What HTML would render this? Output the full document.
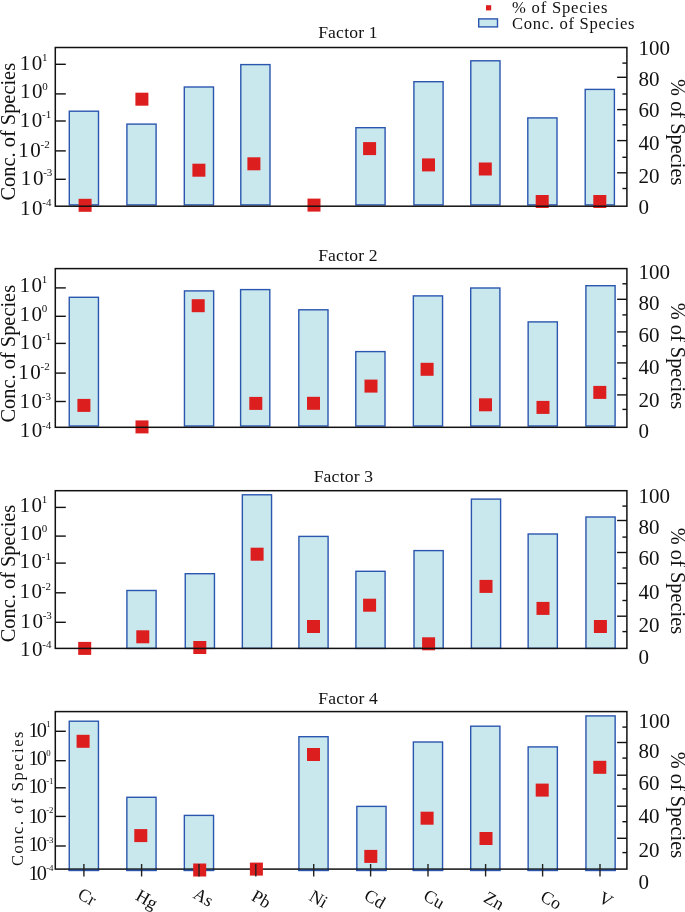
<!DOCTYPE html><html><head><meta charset="utf-8"><style>html,body{margin:0;padding:0;background:#fff;width:685px;height:912px;overflow:hidden}svg{display:block}text{font-family:"Liberation Serif",serif;fill:#111;filter:grayscale(1)}</style></head><body>
<svg width="685" height="912" viewBox="0 0 685 912">
<rect width="685" height="912" fill="#fff"/>
<rect x="486" y="5.2" width="5.2" height="5.2" fill="#dc1e1e"/>
<rect x="478.7" y="18.9" width="18.8" height="8" fill="#c9e8ee" stroke="#2b56b0" stroke-width="1.4"/>
<text x="512" y="12.6" font-size="16.6" letter-spacing="0.8">% of Species</text>
<text x="512" y="29.2" font-size="16.6" letter-spacing="0.7">Conc. of Species</text>
<rect x="69.30" y="111.2" width="29.2" height="93.7" fill="#c9e8ee" stroke="#2b56b0" stroke-width="1.4"/>
<rect x="126.90" y="124.1" width="29.2" height="80.8" fill="#c9e8ee" stroke="#2b56b0" stroke-width="1.4"/>
<rect x="184.30" y="87.0" width="29.2" height="117.9" fill="#c9e8ee" stroke="#2b56b0" stroke-width="1.4"/>
<rect x="240.80" y="64.6" width="29.2" height="140.3" fill="#c9e8ee" stroke="#2b56b0" stroke-width="1.4"/>
<rect x="355.90" y="127.7" width="29.2" height="77.2" fill="#c9e8ee" stroke="#2b56b0" stroke-width="1.4"/>
<rect x="413.90" y="81.7" width="29.2" height="123.2" fill="#c9e8ee" stroke="#2b56b0" stroke-width="1.4"/>
<rect x="470.80" y="60.8" width="29.2" height="144.1" fill="#c9e8ee" stroke="#2b56b0" stroke-width="1.4"/>
<rect x="527.80" y="117.9" width="29.2" height="87.0" fill="#c9e8ee" stroke="#2b56b0" stroke-width="1.4"/>
<rect x="585.20" y="89.4" width="29.2" height="115.5" fill="#c9e8ee" stroke="#2b56b0" stroke-width="1.4"/>
<rect x="78.6" y="198.8" width="13" height="13" fill="#dc1e1e"/><rect x="135.4" y="92.7" width="13" height="13" fill="#dc1e1e"/><rect x="192.4" y="163.7" width="13" height="13" fill="#dc1e1e"/><rect x="247.4" y="157.3" width="13" height="13" fill="#dc1e1e"/><rect x="307.5" y="198.6" width="13" height="13" fill="#dc1e1e"/><rect x="363.1" y="142.1" width="13" height="13" fill="#dc1e1e"/><rect x="422.0" y="158.4" width="13" height="13" fill="#dc1e1e"/><rect x="478.8" y="162.5" width="13" height="13" fill="#dc1e1e"/><rect x="535.7" y="195.0" width="13" height="13" fill="#dc1e1e"/><rect x="593.3" y="195.0" width="13" height="13" fill="#dc1e1e"/>
<rect x="55.3" y="47.5" width="571.6" height="158.7" fill="none" stroke="#111" stroke-width="1.5"/>
<line x1="55.3" y1="64.3" x2="65.8" y2="64.3" stroke="#111" stroke-width="1.4"/>
<line x1="55.3" y1="93.9" x2="65.8" y2="93.9" stroke="#111" stroke-width="1.4"/>
<line x1="55.3" y1="121.0" x2="65.8" y2="121.0" stroke="#111" stroke-width="1.4"/>
<line x1="55.3" y1="150.9" x2="65.8" y2="150.9" stroke="#111" stroke-width="1.4"/>
<line x1="55.3" y1="179.3" x2="65.8" y2="179.3" stroke="#111" stroke-width="1.4"/>
<line x1="622.4" y1="188.5" x2="626.9" y2="188.5" stroke="#111" stroke-width="1.4"/>
<line x1="617.1" y1="172.8" x2="626.9" y2="172.8" stroke="#111" stroke-width="1.4"/>
<line x1="622.4" y1="157.3" x2="626.9" y2="157.3" stroke="#111" stroke-width="1.4"/>
<line x1="617.1" y1="140.6" x2="626.9" y2="140.6" stroke="#111" stroke-width="1.4"/>
<line x1="622.4" y1="124.8" x2="626.9" y2="124.8" stroke="#111" stroke-width="1.4"/>
<line x1="617.1" y1="109.6" x2="626.9" y2="109.6" stroke="#111" stroke-width="1.4"/>
<line x1="622.4" y1="94.0" x2="626.9" y2="94.0" stroke="#111" stroke-width="1.4"/>
<line x1="617.1" y1="77.3" x2="626.9" y2="77.3" stroke="#111" stroke-width="1.4"/>
<line x1="622.4" y1="63.1" x2="626.9" y2="63.1" stroke="#111" stroke-width="1.4"/>
<text x="638.4" y="54.7" font-size="21">100</text>
<text x="638.4" y="85.8" font-size="21">80</text>
<text x="638.4" y="117.4" font-size="21">60</text>
<text x="638.4" y="149.9" font-size="21">40</text>
<text x="638.4" y="182.5" font-size="21">20</text>
<text x="638.4" y="214.1" font-size="21">0</text>
<text x="19.70" y="69.9" font-size="21" letter-spacing="1.65">10</text>
<text x="42.00" y="61.2" font-size="11">1</text>
<text x="19.95" y="98.3" font-size="21" letter-spacing="1.65">10</text>
<text x="42.25" y="89.6" font-size="11">0</text>
<text x="19.70" y="126.7" font-size="21" letter-spacing="1.65">10</text>
<text x="42.00" y="118.0" font-size="11">-1</text>
<text x="18.20" y="156.6" font-size="21" letter-spacing="1.65">10</text>
<text x="40.50" y="147.9" font-size="11">-2</text>
<text x="20.85" y="184.7" font-size="21" letter-spacing="1.65">10</text>
<text x="43.15" y="176.0" font-size="11">-3</text>
<text x="19.95" y="214.6" font-size="21" letter-spacing="1.65">10</text>
<text x="42.25" y="205.9" font-size="11">-4</text>
<text x="348.0" y="37.6" font-size="17.6" text-anchor="middle" letter-spacing="0.2">Factor 1</text>
<text transform="translate(15,131.7) rotate(-90)" font-size="20.4" text-anchor="middle">Conc. of Species</text>
<text transform="translate(670.7,132.3) rotate(90)" font-size="20.4" text-anchor="middle">% of Species</text>
<rect x="69.25" y="297.3" width="29.2" height="128.7" fill="#c9e8ee" stroke="#2b56b0" stroke-width="1.4"/>
<rect x="184.45" y="290.9" width="29.2" height="135.1" fill="#c9e8ee" stroke="#2b56b0" stroke-width="1.4"/>
<rect x="240.60" y="289.6" width="29.2" height="136.4" fill="#c9e8ee" stroke="#2b56b0" stroke-width="1.4"/>
<rect x="298.80" y="309.8" width="29.2" height="116.2" fill="#c9e8ee" stroke="#2b56b0" stroke-width="1.4"/>
<rect x="355.80" y="351.6" width="29.2" height="74.4" fill="#c9e8ee" stroke="#2b56b0" stroke-width="1.4"/>
<rect x="413.35" y="295.9" width="29.2" height="130.1" fill="#c9e8ee" stroke="#2b56b0" stroke-width="1.4"/>
<rect x="470.70" y="288.0" width="29.2" height="138.0" fill="#c9e8ee" stroke="#2b56b0" stroke-width="1.4"/>
<rect x="528.15" y="321.9" width="29.2" height="104.1" fill="#c9e8ee" stroke="#2b56b0" stroke-width="1.4"/>
<rect x="585.90" y="285.7" width="29.2" height="140.3" fill="#c9e8ee" stroke="#2b56b0" stroke-width="1.4"/>
<rect x="77.4" y="398.9" width="13" height="13" fill="#dc1e1e"/><rect x="135.5" y="420.4" width="13" height="13" fill="#dc1e1e"/><rect x="191.7" y="299.2" width="13" height="13" fill="#dc1e1e"/><rect x="249.3" y="396.9" width="13" height="13" fill="#dc1e1e"/><rect x="307.0" y="396.8" width="13" height="13" fill="#dc1e1e"/><rect x="364.5" y="379.6" width="13" height="13" fill="#dc1e1e"/><rect x="420.6" y="362.8" width="13" height="13" fill="#dc1e1e"/><rect x="479.0" y="398.3" width="13" height="13" fill="#dc1e1e"/><rect x="536.5" y="400.9" width="13" height="13" fill="#dc1e1e"/><rect x="593.3" y="385.9" width="13" height="13" fill="#dc1e1e"/>
<rect x="55.3" y="268.6" width="571.6" height="158.7" fill="none" stroke="#111" stroke-width="1.5"/>
<line x1="55.3" y1="287.9" x2="65.8" y2="287.9" stroke="#111" stroke-width="1.4"/>
<line x1="55.3" y1="316.3" x2="65.8" y2="316.3" stroke="#111" stroke-width="1.4"/>
<line x1="55.3" y1="343.4" x2="65.8" y2="343.4" stroke="#111" stroke-width="1.4"/>
<line x1="55.3" y1="373.1" x2="65.8" y2="373.1" stroke="#111" stroke-width="1.4"/>
<line x1="55.3" y1="401.5" x2="65.8" y2="401.5" stroke="#111" stroke-width="1.4"/>
<line x1="622.4" y1="409.4" x2="626.9" y2="409.4" stroke="#111" stroke-width="1.4"/>
<line x1="617.1" y1="394.9" x2="626.9" y2="394.9" stroke="#111" stroke-width="1.4"/>
<line x1="622.4" y1="378.4" x2="626.9" y2="378.4" stroke="#111" stroke-width="1.4"/>
<line x1="617.1" y1="362.9" x2="626.9" y2="362.9" stroke="#111" stroke-width="1.4"/>
<line x1="622.4" y1="345.8" x2="626.9" y2="345.8" stroke="#111" stroke-width="1.4"/>
<line x1="617.1" y1="331.9" x2="626.9" y2="331.9" stroke="#111" stroke-width="1.4"/>
<line x1="622.4" y1="314.9" x2="626.9" y2="314.9" stroke="#111" stroke-width="1.4"/>
<line x1="617.1" y1="299.3" x2="626.9" y2="299.3" stroke="#111" stroke-width="1.4"/>
<line x1="622.4" y1="283.8" x2="626.9" y2="283.8" stroke="#111" stroke-width="1.4"/>
<text x="638.4" y="279.4" font-size="21">100</text>
<text x="638.4" y="309.8" font-size="21">80</text>
<text x="638.4" y="341.7" font-size="21">60</text>
<text x="638.4" y="373.9" font-size="21">40</text>
<text x="638.4" y="406.5" font-size="21">20</text>
<text x="638.4" y="437.8" font-size="21">0</text>
<text x="19.45" y="291.9" font-size="21" letter-spacing="1.65">10</text>
<text x="41.75" y="283.2" font-size="11">1</text>
<text x="19.45" y="320.7" font-size="21" letter-spacing="1.65">10</text>
<text x="41.75" y="312.0" font-size="11">0</text>
<text x="19.70" y="349.0" font-size="21" letter-spacing="1.65">10</text>
<text x="42.00" y="340.3" font-size="11">-1</text>
<text x="18.20" y="378.7" font-size="21" letter-spacing="1.65">10</text>
<text x="40.50" y="370.0" font-size="11">-2</text>
<text x="19.45" y="408.3" font-size="21" letter-spacing="1.65">10</text>
<text x="41.75" y="399.6" font-size="11">-3</text>
<text x="19.70" y="437.3" font-size="21" letter-spacing="1.65">10</text>
<text x="42.00" y="428.6" font-size="11">-4</text>
<text x="348.0" y="260.7" font-size="17.6" text-anchor="middle" letter-spacing="0.2">Factor 2</text>
<text transform="translate(15,353.7) rotate(-90)" font-size="20.4" text-anchor="middle">Conc. of Species</text>
<text transform="translate(670.7,355.9) rotate(90)" font-size="20.4" text-anchor="middle">% of Species</text>
<rect x="126.90" y="590.5" width="29.2" height="57.9" fill="#c9e8ee" stroke="#2b56b0" stroke-width="1.4"/>
<rect x="185.25" y="573.7" width="29.2" height="74.7" fill="#c9e8ee" stroke="#2b56b0" stroke-width="1.4"/>
<rect x="242.35" y="494.8" width="29.2" height="153.6" fill="#c9e8ee" stroke="#2b56b0" stroke-width="1.4"/>
<rect x="298.90" y="536.4" width="29.2" height="112.0" fill="#c9e8ee" stroke="#2b56b0" stroke-width="1.4"/>
<rect x="355.90" y="571.3" width="29.2" height="77.1" fill="#c9e8ee" stroke="#2b56b0" stroke-width="1.4"/>
<rect x="414.00" y="550.6" width="29.2" height="97.8" fill="#c9e8ee" stroke="#2b56b0" stroke-width="1.4"/>
<rect x="471.40" y="499.1" width="29.2" height="149.3" fill="#c9e8ee" stroke="#2b56b0" stroke-width="1.4"/>
<rect x="528.15" y="534.0" width="29.2" height="114.4" fill="#c9e8ee" stroke="#2b56b0" stroke-width="1.4"/>
<rect x="585.95" y="517.0" width="29.2" height="131.4" fill="#c9e8ee" stroke="#2b56b0" stroke-width="1.4"/>
<rect x="78.2" y="641.9" width="13" height="13" fill="#dc1e1e"/><rect x="136.3" y="630.3" width="13" height="13" fill="#dc1e1e"/><rect x="193.3" y="641.0" width="13" height="13" fill="#dc1e1e"/><rect x="250.6" y="547.7" width="13" height="13" fill="#dc1e1e"/><rect x="307.0" y="620.0" width="13" height="13" fill="#dc1e1e"/><rect x="363.1" y="598.7" width="13" height="13" fill="#dc1e1e"/><rect x="422.1" y="637.3" width="13" height="13" fill="#dc1e1e"/><rect x="479.5" y="579.9" width="13" height="13" fill="#dc1e1e"/><rect x="536.5" y="601.9" width="13" height="13" fill="#dc1e1e"/><rect x="593.9" y="620.0" width="13" height="13" fill="#dc1e1e"/>
<rect x="55.3" y="490.7" width="571.6" height="157.7" fill="none" stroke="#111" stroke-width="1.5"/>
<line x1="55.3" y1="507.4" x2="65.8" y2="507.4" stroke="#111" stroke-width="1.4"/>
<line x1="55.3" y1="536.1" x2="65.8" y2="536.1" stroke="#111" stroke-width="1.4"/>
<line x1="55.3" y1="563.1" x2="65.8" y2="563.1" stroke="#111" stroke-width="1.4"/>
<line x1="55.3" y1="592.8" x2="65.8" y2="592.8" stroke="#111" stroke-width="1.4"/>
<line x1="55.3" y1="622.3" x2="65.8" y2="622.3" stroke="#111" stroke-width="1.4"/>
<line x1="622.4" y1="631.6" x2="626.9" y2="631.6" stroke="#111" stroke-width="1.4"/>
<line x1="617.1" y1="616.2" x2="626.9" y2="616.2" stroke="#111" stroke-width="1.4"/>
<line x1="622.4" y1="600.5" x2="626.9" y2="600.5" stroke="#111" stroke-width="1.4"/>
<line x1="617.1" y1="583.5" x2="626.9" y2="583.5" stroke="#111" stroke-width="1.4"/>
<line x1="622.4" y1="568.0" x2="626.9" y2="568.0" stroke="#111" stroke-width="1.4"/>
<line x1="617.1" y1="552.5" x2="626.9" y2="552.5" stroke="#111" stroke-width="1.4"/>
<line x1="622.4" y1="537.1" x2="626.9" y2="537.1" stroke="#111" stroke-width="1.4"/>
<line x1="617.1" y1="520.5" x2="626.9" y2="520.5" stroke="#111" stroke-width="1.4"/>
<line x1="622.4" y1="506.1" x2="626.9" y2="506.1" stroke="#111" stroke-width="1.4"/>
<text x="638.4" y="502.8" font-size="21">100</text>
<text x="638.4" y="533.8" font-size="21">80</text>
<text x="638.4" y="565.3" font-size="21">60</text>
<text x="638.4" y="599.0" font-size="21">40</text>
<text x="638.4" y="632.2" font-size="21">20</text>
<text x="638.4" y="664.4" font-size="21">0</text>
<text x="19.45" y="511.7" font-size="21" letter-spacing="1.65">10</text>
<text x="41.75" y="503.0" font-size="11">1</text>
<text x="19.45" y="540.2" font-size="21" letter-spacing="1.65">10</text>
<text x="41.75" y="531.5" font-size="11">0</text>
<text x="19.45" y="568.2" font-size="21" letter-spacing="1.65">10</text>
<text x="41.75" y="559.5" font-size="11">-1</text>
<text x="19.45" y="598.4" font-size="21" letter-spacing="1.65">10</text>
<text x="41.75" y="589.7" font-size="11">-2</text>
<text x="20.35" y="627.8" font-size="21" letter-spacing="1.65">10</text>
<text x="42.65" y="619.1" font-size="11">-3</text>
<text x="19.95" y="656.3" font-size="21" letter-spacing="1.65">10</text>
<text x="42.25" y="647.6" font-size="11">-4</text>
<text x="343.5" y="481.9" font-size="17.6" text-anchor="middle" letter-spacing="0.2">Factor 3</text>
<text transform="translate(15,573.5) rotate(-90)" font-size="20.4" text-anchor="middle">Conc. of Species</text>
<text transform="translate(670.7,581.0) rotate(90)" font-size="20.4" text-anchor="middle">% of Species</text>
<rect x="69.25" y="721.2" width="29.2" height="149.2" fill="#c9e8ee" stroke="#2b56b0" stroke-width="1.4"/>
<rect x="126.85" y="797.3" width="29.2" height="73.1" fill="#c9e8ee" stroke="#2b56b0" stroke-width="1.4"/>
<rect x="184.35" y="815.4" width="29.2" height="55.0" fill="#c9e8ee" stroke="#2b56b0" stroke-width="1.4"/>
<rect x="298.90" y="736.7" width="29.2" height="133.7" fill="#c9e8ee" stroke="#2b56b0" stroke-width="1.4"/>
<rect x="356.85" y="806.4" width="29.2" height="64.0" fill="#c9e8ee" stroke="#2b56b0" stroke-width="1.4"/>
<rect x="413.35" y="742.0" width="29.2" height="128.4" fill="#c9e8ee" stroke="#2b56b0" stroke-width="1.4"/>
<rect x="470.70" y="726.2" width="29.2" height="144.2" fill="#c9e8ee" stroke="#2b56b0" stroke-width="1.4"/>
<rect x="528.15" y="746.9" width="29.2" height="123.5" fill="#c9e8ee" stroke="#2b56b0" stroke-width="1.4"/>
<rect x="585.95" y="715.9" width="29.2" height="154.5" fill="#c9e8ee" stroke="#2b56b0" stroke-width="1.4"/>
<rect x="55.3" y="711.6" width="571.6" height="157.5" fill="none" stroke="#111" stroke-width="1.5"/>
<line x1="68.55" y1="870.4" x2="99.15" y2="870.4" stroke="#2b56b0" stroke-width="1.4"/>
<line x1="126.15" y1="870.4" x2="156.75" y2="870.4" stroke="#2b56b0" stroke-width="1.4"/>
<line x1="183.65" y1="870.4" x2="214.25" y2="870.4" stroke="#2b56b0" stroke-width="1.4"/>
<line x1="298.20" y1="870.4" x2="328.80" y2="870.4" stroke="#2b56b0" stroke-width="1.4"/>
<line x1="356.15" y1="870.4" x2="386.75" y2="870.4" stroke="#2b56b0" stroke-width="1.4"/>
<line x1="412.65" y1="870.4" x2="443.25" y2="870.4" stroke="#2b56b0" stroke-width="1.4"/>
<line x1="470.00" y1="870.4" x2="500.60" y2="870.4" stroke="#2b56b0" stroke-width="1.4"/>
<line x1="527.45" y1="870.4" x2="558.05" y2="870.4" stroke="#2b56b0" stroke-width="1.4"/>
<line x1="585.25" y1="870.4" x2="615.85" y2="870.4" stroke="#2b56b0" stroke-width="1.4"/>
<rect x="76.6" y="734.8" width="13" height="13" fill="#dc1e1e"/><rect x="134.3" y="829.1" width="13" height="13" fill="#dc1e1e"/><rect x="193.2" y="863.5" width="13" height="13" fill="#dc1e1e"/><rect x="249.9" y="862.6" width="13" height="13" fill="#dc1e1e"/><rect x="307.0" y="748.0" width="13" height="13" fill="#dc1e1e"/><rect x="364.3" y="849.9" width="13" height="13" fill="#dc1e1e"/><rect x="420.6" y="811.7" width="13" height="13" fill="#dc1e1e"/><rect x="479.5" y="832.0" width="13" height="13" fill="#dc1e1e"/><rect x="535.7" y="783.6" width="13" height="13" fill="#dc1e1e"/><rect x="593.3" y="760.8" width="13" height="13" fill="#dc1e1e"/>
<line x1="55.3" y1="731.3" x2="65.8" y2="731.3" stroke="#111" stroke-width="1.4"/>
<line x1="55.3" y1="760.7" x2="65.8" y2="760.7" stroke="#111" stroke-width="1.4"/>
<line x1="55.3" y1="787.8" x2="65.8" y2="787.8" stroke="#111" stroke-width="1.4"/>
<line x1="55.3" y1="816.4" x2="65.8" y2="816.4" stroke="#111" stroke-width="1.4"/>
<line x1="55.3" y1="846.0" x2="65.8" y2="846.0" stroke="#111" stroke-width="1.4"/>
<line x1="622.4" y1="852.6" x2="626.9" y2="852.6" stroke="#111" stroke-width="1.4"/>
<line x1="617.1" y1="838.3" x2="626.9" y2="838.3" stroke="#111" stroke-width="1.4"/>
<line x1="622.4" y1="821.7" x2="626.9" y2="821.7" stroke="#111" stroke-width="1.4"/>
<line x1="617.1" y1="806.2" x2="626.9" y2="806.2" stroke="#111" stroke-width="1.4"/>
<line x1="622.4" y1="788.9" x2="626.9" y2="788.9" stroke="#111" stroke-width="1.4"/>
<line x1="617.1" y1="775.2" x2="626.9" y2="775.2" stroke="#111" stroke-width="1.4"/>
<line x1="622.4" y1="758.1" x2="626.9" y2="758.1" stroke="#111" stroke-width="1.4"/>
<line x1="617.1" y1="742.5" x2="626.9" y2="742.5" stroke="#111" stroke-width="1.4"/>
<line x1="622.4" y1="727.1" x2="626.9" y2="727.1" stroke="#111" stroke-width="1.4"/>
<text x="638.4" y="727.8" font-size="21">100</text>
<text x="638.4" y="758.1" font-size="21">80</text>
<text x="638.4" y="789.5" font-size="21">60</text>
<text x="638.4" y="822.9" font-size="21">40</text>
<text x="638.4" y="856.7" font-size="21">20</text>
<text x="638.4" y="888.9" font-size="21">0</text>
<text x="28.5" y="736.6" font-size="20.3" letter-spacing="-1.9">10</text>
<text x="46.2" y="726.6" font-size="8.8">1</text>
<text x="28.5" y="764.9" font-size="20.3" letter-spacing="-1.9">10</text>
<text x="46.2" y="756.0" font-size="8.8">0</text>
<text x="28.5" y="792.8" font-size="20.3" letter-spacing="-1.9">10</text>
<text x="46.2" y="784.0" font-size="8.8">-1</text>
<text x="28.5" y="823.0" font-size="20.3" letter-spacing="-1.9">10</text>
<text x="46.2" y="812.7" font-size="8.8">-2</text>
<text x="28.5" y="851.4" font-size="20.3" letter-spacing="-1.9">10</text>
<text x="46.2" y="842.5" font-size="8.8">-3</text>
<text x="28.5" y="880.3" font-size="20.3" letter-spacing="-1.9">10</text>
<text x="46.2" y="871.0" font-size="8.8">-4</text>
<text x="348.2" y="703.6" font-size="17.6" text-anchor="middle" letter-spacing="0.2">Factor 4</text>
<text transform="translate(23.3,798.0) rotate(-90)" font-size="16.5" text-anchor="middle" letter-spacing="1.55">Conc. of Species</text>
<text transform="translate(670.7,804.9) rotate(90)" font-size="20.4" text-anchor="middle">% of Species</text>
<line x1="83.9" y1="864" x2="83.9" y2="876.5" stroke="#222" stroke-width="1.4"/>
<text transform="translate(76.4,897.5) rotate(30)" font-size="17.8">Cr</text>
<line x1="141.6" y1="864" x2="141.6" y2="876.5" stroke="#222" stroke-width="1.4"/>
<text transform="translate(134.4,899.0) rotate(30)" font-size="17.8">Hg</text>
<line x1="199.0" y1="864" x2="199.0" y2="876.5" stroke="#222" stroke-width="1.4"/>
<text transform="translate(192.0,897.3) rotate(30)" font-size="17.8">As</text>
<line x1="255.8" y1="864" x2="255.8" y2="876.5" stroke="#222" stroke-width="1.4"/>
<text transform="translate(250.2,899.5) rotate(30)" font-size="17.8">Pb</text>
<line x1="313.7" y1="864" x2="313.7" y2="876.5" stroke="#222" stroke-width="1.4"/>
<text transform="translate(307.9,899.5) rotate(30)" font-size="17.8">Ni</text>
<line x1="370.6" y1="864" x2="370.6" y2="876.5" stroke="#222" stroke-width="1.4"/>
<text transform="translate(363.1,898.8) rotate(30)" font-size="17.8">Cd</text>
<line x1="428.0" y1="864" x2="428.0" y2="876.5" stroke="#222" stroke-width="1.4"/>
<text transform="translate(422.3,899.0) rotate(30)" font-size="17.8">Cu</text>
<line x1="485.6" y1="864" x2="485.6" y2="876.5" stroke="#222" stroke-width="1.4"/>
<text transform="translate(482.5,900.9) rotate(30)" font-size="17.8">Zn</text>
<line x1="542.6" y1="864" x2="542.6" y2="876.5" stroke="#222" stroke-width="1.4"/>
<text transform="translate(539.3,899.9) rotate(30)" font-size="17.8">Co</text>
<line x1="600.0" y1="864" x2="600.0" y2="876.5" stroke="#222" stroke-width="1.4"/>
<text transform="translate(597.2,901.2) rotate(30)" font-size="17.8">V</text>
</svg></body></html>
